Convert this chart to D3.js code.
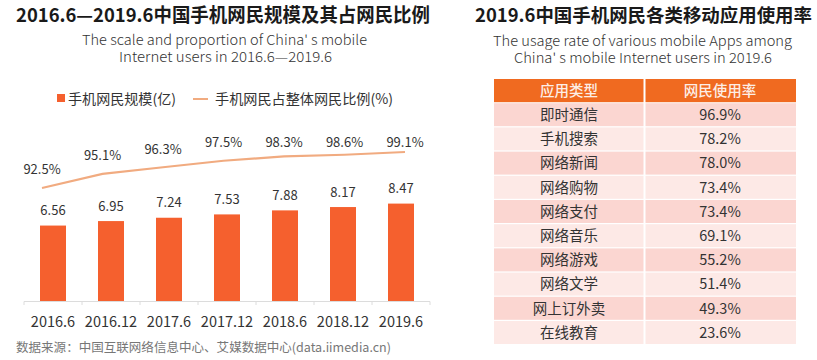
<!DOCTYPE html>
<html>
<head>
<meta charset="utf-8">
<script src="https://cdn.jsdelivr.net/npm/d3@7/dist/d3.min.js"></script>
<style>
  html, body { margin: 0; padding: 0; background: #fff; }
  svg { display: block; font-family: "Noto Sans CJK SC", "Noto Sans", sans-serif; }
</style>
</head>
<body>
<svg id="chart" width="817" height="360"></svg>
<script>
// ---- Data ----
const categories = ['2016.6', '2016.12', '2017.6', '2017.12', '2018.6', '2018.12', '2019.6'];
const users = [6.56, 6.95, 7.24, 7.53, 7.88, 8.17, 8.47];          // 手机网民规模(亿)
const ratio = [92.5, 95.1, 96.3, 97.5, 98.3, 98.6, 99.1];          // 手机网民占整体网民比例(%)
const legendLabels = ['手机网民规模(亿)', '手机网民占整体网民比例(%)'];
const tableHeaders = ['应用类型', '网民使用率'];
const appTypes = ['即时通信', '手机搜索', '网络新闻', '网络购物', '网络支付', '网络音乐', '网络游戏', '网络文学', '网上订外卖', '在线教育'];
const appRates = [96.9, 78.2, 78.0, 73.4, 73.4, 69.1, 55.2, 51.4, 49.3, 23.6];

const svg = d3.select('#chart');
const barColor = '#f5602e';
const lineColor = '#f1ab80';
const textColor = '#333';

// ---- Titles ----
function txt(x, y, s, opts) {
  const t = svg.append('text').attr('x', x).attr('y', y).text(s)
    .attr('font-size', opts.size).attr('fill', opts.fill || textColor)
    .attr('text-anchor', opts.anchor || 'start');
  if (opts.weight) t.attr('font-weight', opts.weight);
  if (opts.len) t.attr('textLength', opts.len).attr('lengthAdjust', 'spacingAndGlyphs');
  return t;
}
function subtitle(lines) {
  lines.forEach(l => txt(l.x, l.y, l.s, {size: 13.8, weight: 300, len: l.len}));
}
txt(16, 22, '2016.6—2019.6中国手机网民规模及其占网民比例', {size: 19, weight: 'bold', fill: '#1a1a1a', len: 414});
subtitle([
  {x: 82, y: 44.5, len: 285, s: "The scale and proportion of China' s mobile"},
  {x: 119, y: 62, len: 213, s: 'Internet users  in 2016.6—2019.6'}
]);

txt(475, 22, '2019.6中国手机网民各类移动应用使用率', {size: 18.5, weight: 'bold', fill: '#1a1a1a', len: 337});
subtitle([
  {x: 493, y: 45.5, len: 299, s: 'The usage rate of various mobile Apps among'},
  {x: 514, y: 63, len: 258, s: "China' s mobile Internet users in 2019.6"}
]);

// ---- Legend ----
svg.append('rect').attr('x', 57).attr('y', 94).attr('width', 8).attr('height', 8).attr('fill', barColor);
txt(68, 104, legendLabels[0], {size: 14, len: 108});
svg.append('line').attr('x1', 193).attr('x2', 208).attr('y1', 99).attr('y2', 99)
  .attr('stroke', lineColor).attr('stroke-width', 2);
txt(215, 104, legendLabels[1], {size: 14, len: 178});

// ---- Bar + line chart ----
const x = d3.scaleBand().domain(categories).range([24, 430]).paddingInner(0.552).paddingOuter(0.276);
const y = d3.scaleLinear().domain([0, 10]).range([301, 186]);
const xl = d3.scalePoint().domain(categories).range([42, 405]);
const yl = d3.scaleLinear().domain([92, 100]).range([190.7, 147.1]);

const step = x.step();
const gap = (step - x.bandwidth()) / 2;

// axis line & ticks at band boundaries
const axisG = svg.append('g');
axisG.append('line').attr('x1', 24).attr('x2', 430).attr('y1', 301.5).attr('y2', 301.5)
  .attr('stroke', '#dcdcdc').attr('stroke-width', 1);
const bounds = categories.map(c => x(c) - gap).concat([x(categories[categories.length - 1]) + x.bandwidth() + gap]);
axisG.selectAll('.tk').data(bounds).enter().append('line')
  .attr('x1', d => d).attr('x2', d => d).attr('y1', 301.5).attr('y2', 305)
  .attr('stroke', '#dcdcdc');

// bars
svg.append('g').selectAll('rect').data(users).enter().append('rect')
  .attr('x', (d, i) => x(categories[i]))
  .attr('y', d => y(d))
  .attr('width', x.bandwidth())
  .attr('height', d => y(0) - y(d))
  .attr('fill', barColor);

// bar labels
svg.append('g').selectAll('text').data(users).enter().append('text')
  .attr('x', (d, i) => x(categories[i]) + x.bandwidth() / 2)
  .attr('y', d => y(d) - 10.5)
  .attr('text-anchor', 'middle').attr('font-size', 13).attr('fill', textColor)
  .text(d => d.toFixed(2));

// x labels
svg.append('g').selectAll('text').data(categories).enter().append('text')
  .attr('x', d => x(d) + x.bandwidth() / 2)
  .attr('y', 327)
  .attr('text-anchor', 'middle').attr('font-size', 14.5).attr('fill', textColor)
  .text(d => d);

// line
const line = d3.line().x((d, i) => xl(categories[i])).y(d => yl(d));
svg.append('path').datum(ratio).attr('d', line)
  .attr('fill', 'none').attr('stroke', lineColor).attr('stroke-width', 2.2);

// line labels
svg.append('g').selectAll('text').data(ratio).enter().append('text')
  .attr('x', (d, i) => xl(categories[i]))
  .attr('y', d => Math.max(yl(d) - 13.5, 147))
  .attr('text-anchor', 'middle').attr('font-size', 13).attr('fill', textColor)
  .text(d => d.toFixed(1) + '%');

// source
txt(16, 352, '数据来源：中国互联网络信息中心、艾媒数据中心(data.iimedia.cn)', {size: 12.5, fill: '#777', len: 375});

// ---- Table ----
const tx0 = 494, tx1 = 796, tsplit = 644.5, ty0 = 79, rowH = 24.2;
const cols = [[tx0, tsplit - 1], [tsplit + 1, tx1]];
const colCenters = [569, 720];
const tg = svg.append('g');

// header
cols.forEach((c, j) => {
  tg.append('rect').attr('x', c[0]).attr('y', ty0).attr('width', c[1] - c[0]).attr('height', rowH - 1)
    .attr('fill', '#f06a20');
  tg.append('text').attr('x', colCenters[j]).attr('y', ty0 + rowH / 2 - 0.5).attr('dy', '0.36em')
    .attr('text-anchor', 'middle').attr('font-size', 14.5).attr('fill', '#fdeee6')
    .attr('font-weight', 500).text(tableHeaders[j]);
});

const rows = appTypes.map((t, i) => ({type: t, rate: appRates[i]}));
rows.forEach((r, i) => {
  const yy = ty0 + rowH * (i + 1);
  const fill = i % 2 === 0 ? '#fbd6d1' : '#fde9e6';
  cols.forEach(c => {
    tg.append('rect').attr('x', c[0]).attr('y', yy).attr('width', c[1] - c[0]).attr('height', rowH - 1.2)
      .attr('fill', fill);
  });
  tg.append('text').attr('x', colCenters[0]).attr('y', yy + rowH / 2 - 0.6).attr('dy', '0.36em')
    .attr('text-anchor', 'middle').attr('font-size', 14.5).attr('fill', textColor).text(r.type);
  tg.append('text').attr('x', colCenters[1]).attr('y', yy + rowH / 2 - 0.6).attr('dy', '0.36em')
    .attr('text-anchor', 'middle').attr('font-size', 14.5).attr('fill', textColor).text(r.rate.toFixed(1) + '%');
});
</script>
</body>
</html>
